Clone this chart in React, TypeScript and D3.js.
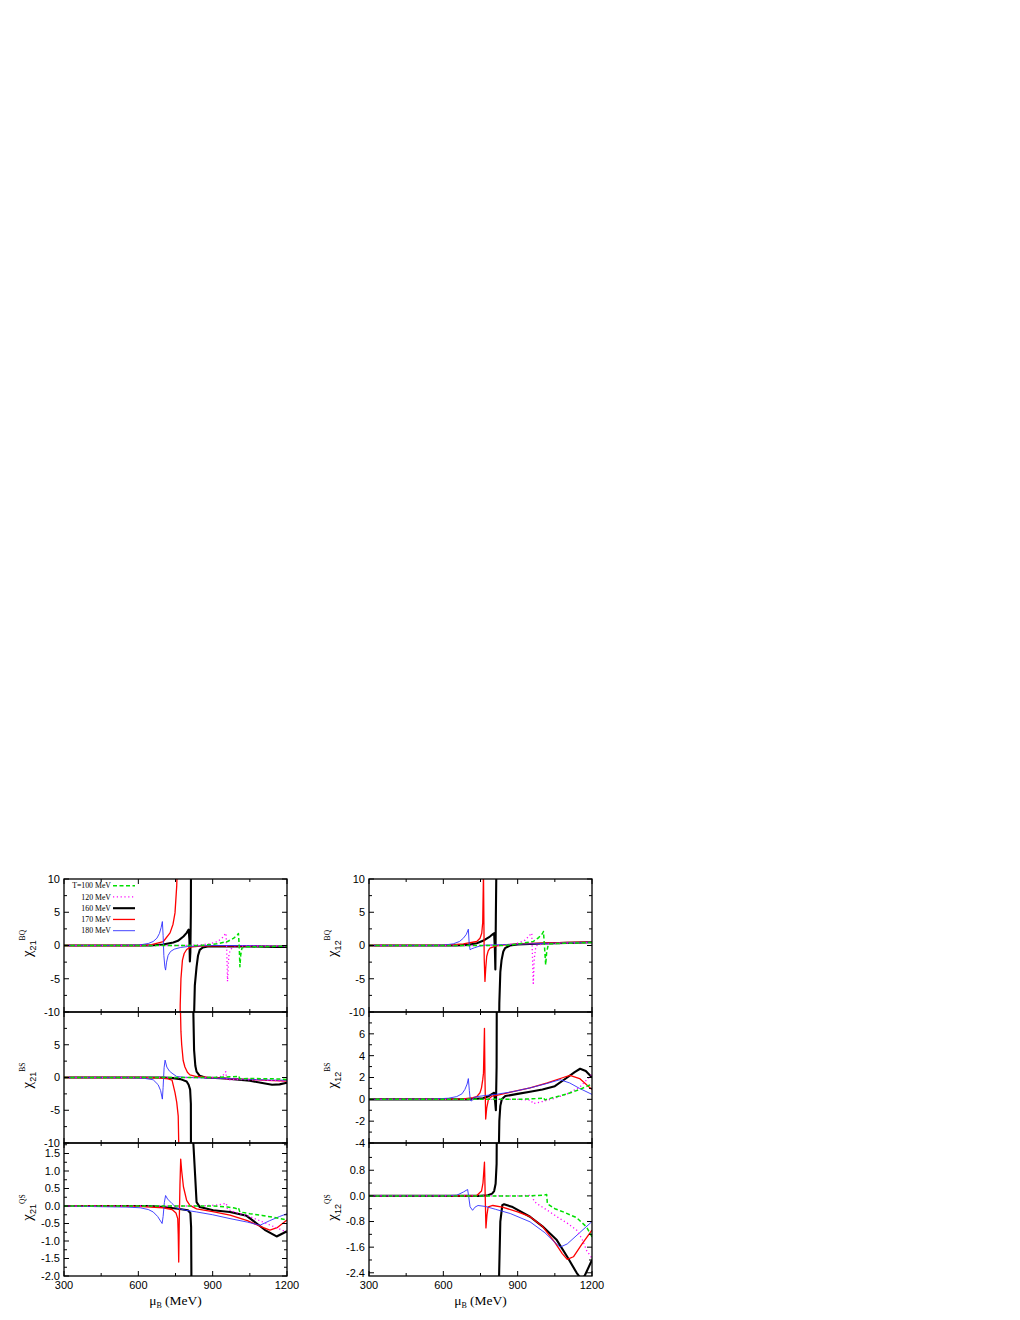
import React from "react";
import * as d3 from "d3";

type P = [number, number] | null;

// ---------- axis / legend data ----------
const muDomain: [number, number] = [300, 1200];
const muMajorTicks = [300, 600, 900, 1200];
const muMinorTicks = [450, 750, 1050];
const seriesLabels = ["T=100 MeV", "120 MeV", "160 MeV", "170 MeV", "180 MeV"];

// ---------- chi21 BQ ----------
const bq21_T100: P[] = [[300,0],[850,0],[916,0.25],[960,0.6],[985,1.1],[1000,1.6],[1004,1.8],[1007,0],[1010,-3.2],[1013,-1.5],[1018,-0.4],[1030,-0.2],[1200,-0.1]];
const bq21_T120: P[] = [[300,0],[800,0],[850,0.1],[889,0.25],[920,0.6],[940,1.2],[950,1.7],[954,1.85],[957,-1],[960,-5.4],[963,-3],[966,-1.2],[975,-0.5],[990,-0.25],[1020,-0.1],[1200,-0.05]];
const bq21_T160: P[] = [[300,0],[650,0],[700,0.15],[741,0.45],[760,0.7],[782,1.35],[795,1.9],[803,2.4],[806,1.0],[808,-2.4],[810,-1],[812,5],[814,30],null,[820,-40],[824,-12],[828,-6],[835,-3.2],[841,-1.5],[848,-0.65],[860,-0.3],[880,-0.15],[950,-0.1],[1050,-0.15],[1150,-0.2],[1200,-0.2]];
const bq21_T170: P[] = [[300,0],[600,0],[650,0.1],[701,0.6],[728,1.9],[740,3.2],[748,4.9],[755,9],[760,15],[763,40],null,[766,-40],[769,-9],[772,-5],[778,-2.2],[785,-1.2],[795,-0.6],[810,-0.25],[850,-0.1],[900,-0.05],[1000,-0.05],[1200,-0.1]];
const bq21_T180: P[] = [[300,0],[500,0],[600,0.05],[640,0.3],[660,0.6],[675,1.1],[685,1.8],[692,2.7],[697,3.6],[700,1.5],[703,-1.5],[707,-3.2],[710,-3.7],[714,-2.5],[720,-1.5],[730,-0.9],[745,-0.55],[770,-0.3],[800,-0.15],[850,-0.05],[900,0],[1000,0],[1100,-0.05],[1200,-0.1]];

// ---------- chi21 BS ----------
const bs21_T100: P[] = [[300,0],[900,0],[970,0.1],[1000,0.15],[1005,0.25],[1010,-0.2],[1050,-0.15],[1150,-0.2],[1200,-0.3]];
const bs21_T120: P[] = [[300,0],[900,0],[940,0.2],[950,0.75],[953,0.9],[956,-0.1],[960,-0.4],[980,-0.3],[1050,-0.35],[1150,-0.45],[1200,-0.6]];
const bs21_T160: P[] = [[300,0],[700,0],[740,-0.1],[770,-0.25],[795,-0.6],[803,-1.1],[809,-1.85],[812,-4],[814,-40],null,[818,40],[821,12],[825,4.2],[830,1.8],[835,0.9],[848,0.25],[870,0],[950,-0.15],[1050,-0.5],[1100,-0.85],[1140,-1.1],[1170,-1.05],[1200,-0.8]];
const bs21_T170: P[] = [[300,0],[600,0],[680,-0.05],[720,-0.2],[736,-0.4],[748,-2.3],[755,-3.8],[761,-5.9],[764,-12],[766,-40],null,[767,40],[769,12],[772,7],[775,5],[781,2.6],[788,1.6],[798,0.8],[808,0.4],[835,0.15],[880,0],[950,-0.15],[1050,-0.3],[1120,-0.45],[1200,-0.55]];
const bs21_T180: P[] = [[300,0],[550,0],[620,-0.1],[660,-0.35],[680,-1.1],[690,-2],[697,-3.3],[700,-1.5],[704,1.5],[708,2.65],[715,1.6],[725,1.0],[736,0.65],[755,0.15],[790,0.02],[850,-0.05],[950,-0.15],[1050,-0.3],[1150,-0.4],[1200,-0.4]];

// ---------- chi21 QS ----------
const qs21_T100: P[] = [[300,0],[900,0],[960,-0.03],[988,-0.06],[1000,-0.08],[1004,-0.05],[1010,-0.17],[1050,-0.22],[1100,-0.27],[1150,-0.33],[1200,-0.4]];
const qs21_T120: P[] = [[300,0],[850,0],[920,0.03],[950,0.07],[955,0.08],[960,-0.1],[1000,-0.2],[1050,-0.3],[1100,-0.45],[1150,-0.6],[1200,-0.75]];
const qs21_T160: P[] = [[300,0],[650,0],[700,-0.03],[760,-0.08],[800,-0.12],[810,-0.2],[813,-0.6],[815,-3],null,[818,3],[822,1.8],[829,0.9],[835,0.11],[848,-0.03],[902,-0.12],[970,-0.17],[1037,-0.28],[1078,-0.5],[1110,-0.68],[1158,-0.87],[1200,-0.72]];
const qs21_T170: P[] = [[300,0],[600,-0.01],[700,-0.05],[736,-0.1],[752,-0.2],[759,-0.36],[761,-0.8],[763,-1.6],[765,-0.5],[768,0.6],[771,1.34],[775,1.0],[782,0.55],[795,0.16],[808,0.02],[835,-0.08],[900,-0.16],[970,-0.26],[1040,-0.42],[1105,-0.62],[1131,-0.69],[1160,-0.62],[1200,-0.4]];
const qs21_T180: P[] = [[300,0],[450,-0.02],[550,-0.03],[607,-0.05],[640,-0.1],[660,-0.17],[678,-0.3],[687,-0.4],[696,-0.5],[700,-0.3],[705,0.1],[710,0.3],[718,0.2],[736,0.07],[755,-0.06],[790,-0.12],[835,-0.17],[900,-0.25],[970,-0.36],[1040,-0.46],[1091,-0.55],[1130,-0.42],[1170,-0.3],[1200,-0.22]];

// ---------- chi12 BQ ----------
const bq12_T100: P[] = [[300,0],[850,0],[896,0.2],[963,0.6],[985,1.2],[1000,1.8],[1004,2.1],[1008,0],[1013,-2.9],[1017,-1],[1024,0.2],[1060,0.3],[1200,0.45]];
const bq12_T120: P[] = [[300,0],[800,0],[860,0.1],[900,0.35],[930,0.8],[950,1.6],[957,1.85],[960,-2],[963,-5.7],[967,-2],[972,-0.5],[977,0],[1000,0.2],[1100,0.35],[1200,0.45]];
const bq12_T160: P[] = [[300,0],[650,0],[700,0.1],[735,0.35],[760,0.7],[788,1.35],[800,1.7],[805,1.85],[808,-0.5],[810,-3.6],[812,4.4],[815,15],[818,60],null,[820,-60],[823,-20],[826,-8.7],[830,-4],[835,-2.2],[842,-0.9],[849,-0.4],[869,0],[900,0.15],[1000,0.3],[1100,0.4],[1200,0.5]];
const bq12_T170: P[] = [[300,0],[600,0.02],[681,0.25],[735,0.6],[748,1.1],[755,1.85],[759,3.5],[762,11],[765,-2],[768,-5.4],[771,-3.5],[775,-1.65],[781,-0.8],[788,-0.4],[815,-0.05],[850,0.1],[896,0.25],[1000,0.35],[1100,0.45],[1200,0.5]];
const bq12_T180: P[] = [[300,0],[550,0],[600,0.05],[640,0.25],[665,0.6],[681,1.1],[693,1.7],[701,2.45],[704,0.5],[708,-0.65],[714,-0.5],[725,-0.35],[745,-0.1],[770,0.05],[850,0.15],[950,0.25],[1050,0.35],[1150,0.45],[1200,0.5]];

// ---------- chi12 BS ----------
const bs12_T100: P[] = [[300,0],[900,0],[960,0.05],[1000,0.1],[1005,0.15],[1010,-0.05],[1050,0.2],[1100,0.5],[1150,0.9],[1200,1.4]];
const bs12_T120: P[] = [[300,0],[900,0],[940,-0.05],[955,-0.1],[960,-0.35],[963,-0.4],[1000,-0.2],[1050,0.1],[1100,0.5],[1150,1.1],[1200,2.3]];
const bs12_T160: P[] = [[300,0],[700,0],[760,0.1],[780,0.25],[797,0.5],[805,0.6],[809,-0.2],[812,-1.0],[815,3],[818,30],null,[820,-30],[823,-6],[826,-2],[830,-0.6],[836,0],[850,0.3],[900,0.5],[950,0.7],[1000,0.9],[1050,1.2],[1100,2.0],[1130,2.5],[1152,2.8],[1175,2.6],[1200,2.0]];
const bs12_T170: P[] = [[300,0],[600,0.02],[681,0.05],[720,0.15],[735,0.25],[748,0.6],[754,1.05],[759,1.8],[762,2.4],[764,4.5],[766,6.5],[768,2],[771,-1.8],[775,-0.8],[782,0],[797,0.3],[811,0.35],[880,0.7],[950,1.05],[1020,1.5],[1084,2.0],[1111,2.2],[1150,1.9],[1200,0.9]];
const bs12_T180: P[] = [[300,0],[550,0.02],[620,0.1],[654,0.25],[675,0.5],[687,0.9],[696,1.4],[701,1.9],[705,0.8],[709,-0.1],[714,-0.15],[722,0.15],[735,0.25],[770,0.35],[811,0.45],[880,0.7],[950,1.05],[1010,1.4],[1071,1.8],[1110,1.5],[1150,1.0],[1200,0.45]];

// ---------- chi12 QS ----------
const qs12_T100: P[] = [[300,0],[950,0],[1000,0.02],[1017,0.04],[1020,-0.25],[1050,-0.4],[1084,-0.5],[1138,-0.68],[1178,-0.97],[1200,-1.28]];
const qs12_T120: P[] = [[300,0],[900,0],[955,0.02],[960,0.01],[965,-0.15],[977,-0.24],[1020,-0.45],[1058,-0.65],[1100,-0.85],[1138,-1.07],[1160,-1.35],[1178,-1.7],[1200,-1.95]];
const qs12_T160: P[] = [[300,0],[750,0],[780,0.02],[797,0.07],[805,0.15],[811,0.38],[815,1],[818,5],null,[821,-5],[825,-2.5],[830,-0.8],[838,-0.29],[845,-0.26],[880,-0.35],[950,-0.65],[1000,-0.95],[1058,-1.38],[1100,-1.9],[1138,-2.4],[1155,-2.58],[1170,-2.5],[1200,-2.0]];
const qs12_T170: P[] = [[300,0],[700,0],[735,0.01],[754,0.15],[760,0.4],[766,1.05],[769,0],[772,-1.0],[776,-0.6],[781,-0.34],[800,-0.3],[838,-0.35],[900,-0.5],[950,-0.65],[1000,-0.95],[1050,-1.45],[1080,-1.8],[1100,-1.98],[1125,-1.9],[1160,-1.5],[1200,-1.07]];
const qs12_T180: P[] = [[300,0],[600,0],[654,0.02],[681,0.12],[698,0.2],[702,0],[708,-0.34],[718,-0.45],[728,-0.35],[740,-0.3],[770,-0.33],[811,-0.42],[870,-0.55],[950,-0.81],[1010,-1.15],[1050,-1.45],[1071,-1.6],[1100,-1.5],[1150,-1.15],[1200,-0.8]];

// ---------- y tick values ----------
const yTicksBig = [-10, -5, 0, 5, 10];
const yMinorBig = [-7.5, -2.5, 2.5, 7.5];
const yTicksBigNoTop = [-10, -5, 0, 5];
const yTicksQS21 = [-2.0, -1.5, -1.0, -0.5, 0.0, 0.5, 1.0, 1.5];
const yMinorQS21 = [-1.75, -1.25, -0.75, -0.25, 0.25, 0.75, 1.25, 1.75];
const yTicksBS12 = [-4, -2, 0, 2, 4, 6];
const yMinorBS12 = [-3, -1, 1, 3, 5, 7];
const yTicksQS12 = [-2.4, -1.6, -0.8, 0.0, 0.8];
const yMinorQS12 = [-2.0, -1.2, -0.4, 0.4, 1.2];

// ---------- styles (not data) ----------
const seriesStyle = [
  { color: "#00e000", width: 1.5, dash: "4,2.5" },
  { color: "#ff00ff", width: 1.3, dash: "1.2,2.6" },
  { color: "#000000", width: 2.1, dash: "" },
  { color: "#ff0000", width: 1.3, dash: "" },
  { color: "#3030ff", width: 0.9, dash: "" },
];
const drawOrder = [2, 3, 4, 1, 0];

const COL_X = [64, 369];
const PANEL_W = 223;
const ROW_Y = [879, 1012, 1143, 1276];

type PanelCfg = {
  col: number; row: number; domain: [number, number];
  ticks: number[]; minor: number[]; fmt: (v: number) => string;
  sub: string; sup: string; series: P[][];
};

const intFmt = (v: number) => String(v);
const oneFmt = (v: number) => v.toFixed(1);

const panels: PanelCfg[] = [
  { col: 0, row: 0, domain: [-10, 10], ticks: yTicksBig, minor: yMinorBig, fmt: intFmt, sub: "21", sup: "BQ", series: [bq21_T100, bq21_T120, bq21_T160, bq21_T170, bq21_T180] },
  { col: 0, row: 1, domain: [-10, 10], ticks: yTicksBigNoTop, minor: yMinorBig, fmt: intFmt, sub: "21", sup: "BS", series: [bs21_T100, bs21_T120, bs21_T160, bs21_T170, bs21_T180] },
  { col: 0, row: 2, domain: [-2, 1.8], ticks: yTicksQS21, minor: yMinorQS21, fmt: oneFmt, sub: "21", sup: "QS", series: [qs21_T100, qs21_T120, qs21_T160, qs21_T170, qs21_T180] },
  { col: 1, row: 0, domain: [-10, 10], ticks: yTicksBig, minor: yMinorBig, fmt: intFmt, sub: "12", sup: "BQ", series: [bq12_T100, bq12_T120, bq12_T160, bq12_T170, bq12_T180] },
  { col: 1, row: 1, domain: [-4, 8], ticks: yTicksBS12, minor: yMinorBS12, fmt: intFmt, sub: "12", sup: "BS", series: [bs12_T100, bs12_T120, bs12_T160, bs12_T170, bs12_T180] },
  { col: 1, row: 2, domain: [-2.5, 1.65], ticks: yTicksQS12, minor: yMinorQS12, fmt: oneFmt, sub: "12", sup: "QS", series: [qs12_T100, qs12_T120, qs12_T160, qs12_T170, qs12_T180] },
];

const SANS = "'Liberation Sans', Arial, sans-serif";
const SERIF = "'Liberation Serif', 'Times New Roman', serif";

function Panel({ cfg, idx }: { cfg: PanelCfg; idx: number }) {
  const x0 = COL_X[cfg.col];
  const x1 = x0 + PANEL_W;
  const yTop = ROW_Y[cfg.row];
  const yBot = ROW_Y[cfg.row + 1];
  const x = d3.scaleLinear().domain(muDomain).range([x0, x1]);
  const y = d3.scaleLinear().domain(cfg.domain).range([yBot, yTop]);
  const line = d3.line<P>()
    .defined((d) => d !== null)
    .x((d) => x((d as [number, number])[0]))
    .y((d) => y((d as [number, number])[1]));
  const clipId = `clip${idx}`;
  const isBottom = cfg.row === 2;
  const yc = (yTop + yBot) / 2 - 2;
  const labX = x0 - 32;
  const inRange = (v: number) => v >= Math.min(...cfg.domain) - 1e-9 && v <= Math.max(...cfg.domain) + 1e-9;
  return (
    <g>
      <defs>
        <clipPath id={clipId}>
          <rect x={x0} y={yTop} width={PANEL_W} height={yBot - yTop} />
        </clipPath>
      </defs>
      <g clipPath={`url(#${clipId})`} fill="none">
        {drawOrder.map((si) => {
          const st = seriesStyle[si];
          return (
            <path key={si} d={line(cfg.series[si]) || ""} stroke={st.color} strokeWidth={st.width}
              strokeDasharray={st.dash || undefined} strokeLinejoin="round" />
          );
        })}
      </g>
      <rect x={x0} y={yTop} width={PANEL_W} height={yBot - yTop} fill="none" stroke="#000" strokeWidth={1.3} />
      {/* x ticks */}
      {muMajorTicks.map((t) => (
        <g key={"xm" + t} stroke="#000" strokeWidth={1}>
          <line x1={x(t)} x2={x(t)} y1={yBot} y2={yBot - 5} />
          <line x1={x(t)} x2={x(t)} y1={yTop} y2={yTop + 5} />
        </g>
      ))}
      {muMinorTicks.map((t) => (
        <g key={"xn" + t} stroke="#000" strokeWidth={1}>
          <line x1={x(t)} x2={x(t)} y1={yBot} y2={yBot - 3} />
          <line x1={x(t)} x2={x(t)} y1={yTop} y2={yTop + 3} />
        </g>
      ))}
      {/* y ticks */}
      {cfg.ticks.map((t) => (
        <g key={"ym" + t} stroke="#000" strokeWidth={1}>
          <line x1={x0} x2={x0 + 5} y1={y(t)} y2={y(t)} />
          <line x1={x1} x2={x1 - 5} y1={y(t)} y2={y(t)} />
        </g>
      ))}
      {cfg.minor.filter(inRange).map((t) => (
        <g key={"yn" + t} stroke="#000" strokeWidth={1}>
          <line x1={x0} x2={x0 + 3} y1={y(t)} y2={y(t)} />
          <line x1={x1} x2={x1 - 3} y1={y(t)} y2={y(t)} />
        </g>
      ))}
      {cfg.ticks.map((t) => (
        <text key={"yl" + t} x={x0 - 4} y={y(t)} dy="0.36em" textAnchor="end"
          fontFamily={SANS} fontSize={11} fill="#000">{cfg.fmt(t)}</text>
      ))}
      {isBottom && muMajorTicks.map((t) => (
        <text key={"xl" + t} x={x(t)} y={yBot + 13} textAnchor="middle"
          fontFamily={SANS} fontSize={11} fill="#000">{t}</text>
      ))}
      {isBottom && (
        <text x={(x0 + x1) / 2} y={yBot + 29} textAnchor="middle" fontFamily={SERIF} fontSize={13.5} fill="#000">
          <tspan>μ</tspan>
          <tspan fontSize={8} dy={3}>B</tspan>
          <tspan dy={-3}> (MeV)</tspan>
        </text>
      )}
      <text transform={`translate(${labX},${yc}) rotate(-90)`} textAnchor="middle" fontFamily={SERIF} fill="#000">
        <tspan fontSize={15}>χ</tspan>
        <tspan fontSize={9} dy={3.5} fontFamily={SANS}>{cfg.sub}</tspan>
        <tspan fontSize={7.5} dy={-10.5}>{cfg.sup}</tspan>
      </text>
    </g>
  );
}

function Legend() {
  const x0 = COL_X[0];
  const textRight = x0 + 47;
  const lx1 = x0 + 49;
  const lx2 = x0 + 71;
  const rowY = (i: number) => 885.7 + i * 11.25;
  return (
    <g>
      {seriesLabels.map((lab, i) => {
        const st = seriesStyle[i];
        return (
          <g key={lab}>
            <text x={textRight} y={rowY(i)} dy="0.35em" textAnchor="end" fontFamily={SERIF} fontSize={7.8} fill="#000">{lab}</text>
            <line x1={lx1} x2={lx2} y1={rowY(i)} y2={rowY(i)} stroke={st.color} strokeWidth={st.width}
              strokeDasharray={st.dash || undefined} />
          </g>
        );
      })}
    </g>
  );
}

export default function App() {
  return (
    <svg width={1020} height={1320} style={{ position: "absolute", left: 0, top: 0, background: "#fff" }}>
      <rect x={0} y={0} width={1020} height={1320} fill="#fff" />
      {panels.map((p, i) => (
        <Panel key={i} cfg={p} idx={i} />
      ))}
      <Legend />
    </svg>
  );
}
